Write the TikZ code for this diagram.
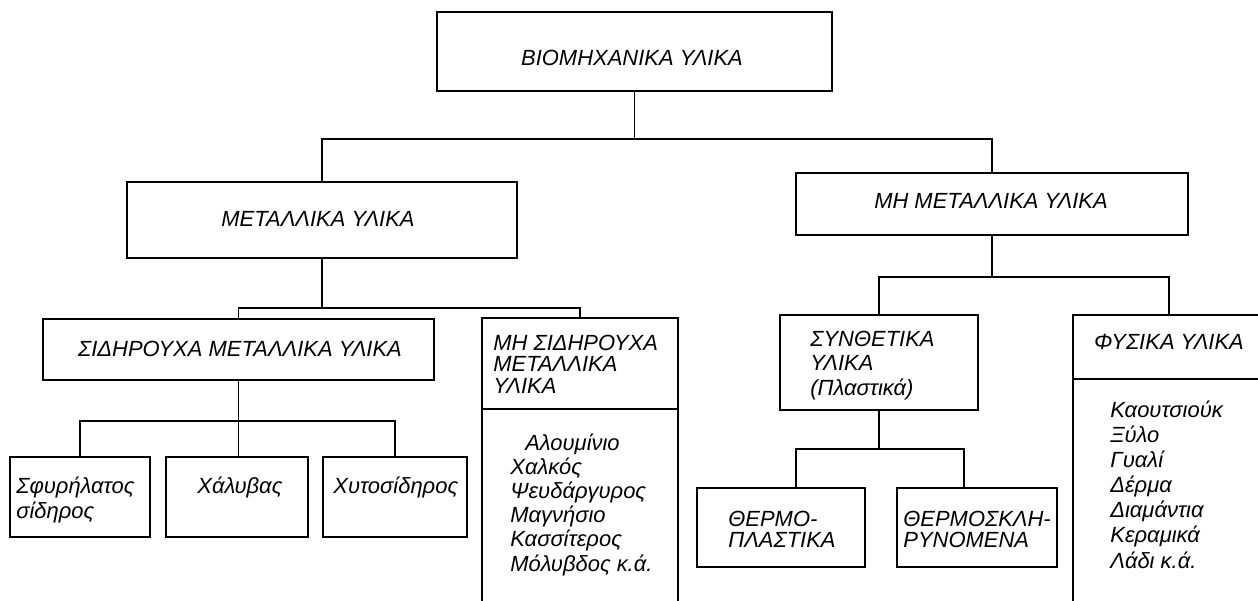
\documentclass[tikz,border=0pt]{standalone}
\usepackage{fontspec}
\setmainfont{Liberation Sans}
\usetikzlibrary{fit}

\begin{document}
\begin{tikzpicture}[x=0.02cm, y=-0.02cm,
  every node/.style={font=\itshape\fontsize{12.5}{12.2}\selectfont},
  box/.style={draw, line width=1.3pt, inner sep=0pt},
  conn/.style={line width=1pt},
  lbl/.style={anchor=base, inner sep=0pt},
  lt/.style={anchor=base west, inner sep=0pt, align=left},
  lst/.style={lt, font=\itshape\fontsize{12.5}{13.7}\selectfont},
]
\useasboundingbox (0,0) rectangle (1258,601);
\clip (0,0) rectangle (1258,601);

% top level
\node[box, fit={(437,12)(832,91)}] (bio) {};
\node[lbl] (bioT) at (632,66) {ΒΙΟΜΗΧΑΝΙΚΑ ΥΛΙΚΑ};

% second level
\node[box, fit={(127,182)(517,258)}] (met) {};
\node[lbl] (metT) at (318,227) {ΜΕΤΑΛΛΙΚΑ ΥΛΙΚΑ};
\node[box, fit={(796,173)(1188,235)}] (nmet) {};
\node[lbl] (nmetT) at (991,209) {ΜΗ ΜΕΤΑΛΛΙΚΑ ΥΛΙΚΑ};

% metals (last line baselines)
\node[box, fit={(43,319)(434,380)}] (sid) {};
\node[lbl] (sidT) at (240,357) {ΣΙΔΗΡΟΥΧΑ ΜΕΤΑΛΛΙΚΑ ΥΛΙΚΑ};
\node[box, fit={(482,318)(678,409)}] (nsid) {};
\node[lt] (nsidT) at (493,393) {ΜΗ ΣΙΔΗΡΟΥΧΑ\\ΜΕΤΑΛΛΙΚΑ\\ΥΛΙΚΑ};
\node[box, fit={(482,409)(678,630)}] (nsidL) {};
\node[lst] (nsidLT) at (510,571) {\hspace*{8.5pt}Αλουμίνιο\\Χαλκός\\Ψευδάργυρος\\Μαγνήσιο\\Κασσίτερος\\Μόλυβδος κ.ά.};

% ferrous
\node[box, fit={(10,457)(150,537)}] (sfy) {};
\node[lt, font=\itshape\fontsize{12.5}{14.2}\selectfont] (sfyT) at (16,518) {Σφυρήλατος\\σίδηρος};
\node[box, fit={(166,457)(308,537)}] (xal) {};
\node[lt] (xalT) at (197,493) {Χάλυβας};
\node[box, fit={(323,457)(467,537)}] (xyt) {};
\node[lt] (xytT) at (333,493) {Χυτοσίδηρος};

% non-metals
\node[box, fit={(780,315)(978,410)}] (syn) {};
\node[lst] (synT) at (810,395) {ΣΥΝΘΕΤΙΚΑ\\ΥΛΙΚΑ\\(Πλαστικά)};
\node[box, fit={(1073,315)(1265,379)}] (fys) {};
\node[lbl] (fysT) at (1169,350) {ΦΥΣΙΚΑ ΥΛΙΚΑ};
\node[box, fit={(1073,379)(1265,630)}] (fysL) {};
\node[lt, font=\itshape\fontsize{12.5}{14.3}\selectfont] (fysLT) at (1110,568) {Καουτσιούκ\\Ξύλο\\Γυαλί\\Δέρμα\\Διαμάντια\\Κεραμικά\\Λάδι κ.ά.};

% plastics
\node[box, fit={(697,488)(865,567)}] (thp) {};
\node[lt, font=\itshape\fontsize{12.5}{11.4}\selectfont] (thpT) at (728,547) {ΘΕΡΜΟ-\\ΠΛΑΣΤΙΚΑ};
\node[box, fit={(897,488)(1057,567)}] (thd) {};
\node[lt, font=\itshape\fontsize{12.5}{11.4}\selectfont] (thdT) at (903,547) {ΘΕΡΜΟΣΚΛΗ-\\ΡΥΝΟΜΕΝΑ};

% connectors
\draw[conn] (bio.south) -- ++(0,47) coordinate (jb);
\draw[conn] (met.north) |- (jb) -| (nmet.north);
\draw[conn] (met.south) -- ++(0,49) coordinate (jm);
\draw[conn] (sid.north) |- (jm) -| (nsid.north);
\draw[conn] (nmet.south) -- ++(0,41) coordinate (jn);
\draw[conn] (syn.north) |- (jn) -| (fys.north);
\draw[conn] (sid.south) -- ++(0,40) coordinate (js);
\draw[conn] (sfy.north) |- (js) -| (xyt.north);
\draw[conn] (js) -- (js |- xal.north);
\coordinate (tp1) at (796,449);
\coordinate (tp2) at (964,449);
\draw[conn] (syn.south) -- (syn.south |- tp1);
\draw[conn] (tp1 |- thp.north) -- (tp1) -- (tp2) -- (tp2 |- thd.north);
\end{tikzpicture}
\end{document}
